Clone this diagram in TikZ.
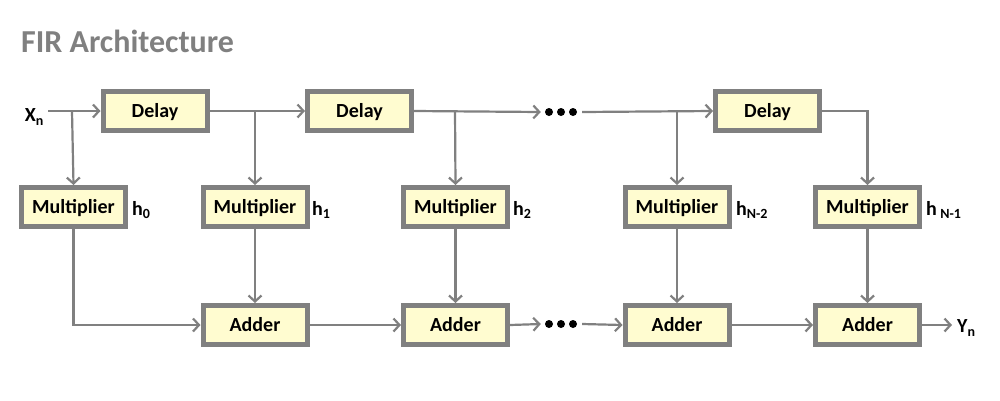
\documentclass[tikz,border=0pt]{standalone}
\usepackage{fontspec}
\setmainfont{Carlito}
\usetikzlibrary{arrows.meta}
\definecolor{linegray}{RGB}{128,128,128}
\definecolor{boxfill}{RGB}{255,252,208}
\definecolor{titlegray}{RGB}{128,128,128}
\tikzset{
  blk/.style={draw=linegray, line width=5pt, fill=boxfill, minimum width=104pt, minimum height=39pt, inner sep=0pt, text height=12.5pt, text depth=0pt, font=\fontsize{20}{23}\selectfont\bfseries},
  conn/.style={draw=linegray, line width=2.2pt},
  arr/.style={conn, -{Straight Barb[length=6pt,width=13pt,line width=2.2pt]}},
  lbl/.style={font=\fontsize{20}{23}\selectfont\bfseries, inner sep=0pt, anchor=west},
  dotc/.style={circle, fill=black, inner sep=0pt, minimum size=8pt},
}
\begin{document}
\begin{tikzpicture}[x=1pt,y=-1pt]
\useasboundingbox (0,0) rectangle (1000,400);
\node[anchor=west, text=titlegray, font=\fontsize{32}{38}\selectfont\bfseries, inner sep=0pt] (title) at (21,41) {FIR Architecture};

% delays
\node[blk] (d1) at (155,111) {Delay};
\node[blk] (d2) at (359.5,111) {Delay};
\node[blk] (d3) at (767.5,111) {Delay};
% multipliers
\node[blk] (m0) at (73.5,207) {Multiplier};
\node[blk] (m1) at (255,207) {Multiplier};
\node[blk] (m2) at (455.5,207) {Multiplier};
\node[blk] (m3) at (677,207) {Multiplier};
\node[blk] (m4) at (867.5,207) {Multiplier};
% adders
\node[blk] (a1) at (255,325) {Adder};
\node[blk] (a2) at (455.5,325) {Adder};
\node[blk] (a3) at (677,325) {Adder};
\node[blk] (a4) at (867.5,325) {Adder};

% coefficient labels
\node[lbl] (h0) at (132,210) {h\textsubscript{0}};
\node[lbl] (h1) at (312,210) {h\textsubscript{1}};
\node[lbl] (h2) at (513,210) {h\textsubscript{2}};
\node[lbl] (h3) at (736,210) {h\textsubscript{N-2}};
\node[lbl] (h4) at (926,210) {h\,\textsubscript{N-1}};

% input / output
\node[lbl, anchor=east] (xn) at (44,117) {X\textsubscript{n}};
\node[lbl] (yn) at (957,328) {Y\textsubscript{n}};

% dots
\node[dotc] (td1) at (549,112) {};
\node[dotc] (td2) at (561,112) {};
\node[dotc] (td3) at (573,112) {};
\node[dotc] (bd1) at (549,324) {};
\node[dotc] (bd2) at (561,324) {};
\node[dotc] (bd3) at (573,324) {};

% tap coordinates
\coordinate (xs) at (48,111);
\coordinate (t0) at (72,111);
\coordinate (t1) at (255,111);
\coordinate (t2) at (455,111);
\coordinate (t3) at (677,111);
\coordinate (ye) at (952,325);

% top line
\draw[arr] (xs) -- (d1.west);
\draw[arr] (t0) -- (m0.north);
\draw[arr] (d1.east) -- (d2.west);
\draw[arr] (t1) -- (m1.north);
\draw[arr] (d2.east) -- ([xshift=-4pt]td1.west);
\draw[arr] (t2) -- (m2.north);
\draw[arr] ([xshift=5pt]td3.east) -- (d3.west);
\draw[arr] (t3) -- (m3.north);
\draw[arr] (d3.east) -| (m4.north);

% multiplier outputs
\draw[arr] (m0.south) |- (a1.west);
\draw[arr] (m1.south) -- (a1.north);
\draw[arr] (m2.south) -- (a2.north);
\draw[arr] (m3.south) -- (a3.north);
\draw[arr] (m4.south) -- (a4.north);

% adder chain
\draw[arr] (a1.east) -- (a2.west);
\draw[arr] (a2.east) -- ([xshift=-4pt]bd1.west);
\draw[arr] ([xshift=5pt]bd3.east) -- (a3.west);
\draw[arr] (a3.east) -- (a4.west);
\draw[arr] (a4.east) -- (ye);
\end{tikzpicture}
\end{document}
